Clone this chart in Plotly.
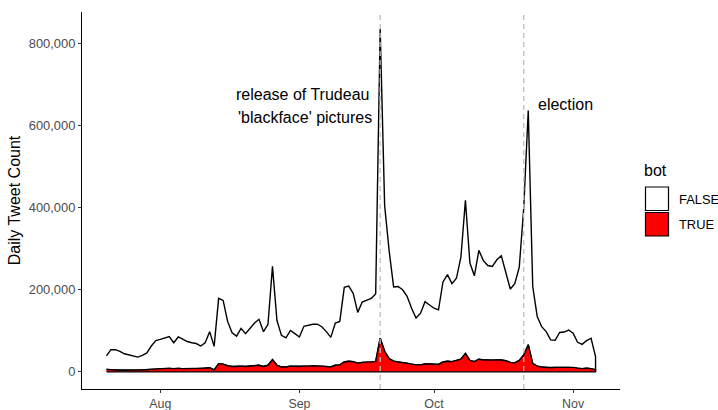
import plotly.graph_objects as go
import pandas as pd

# ---- data ----
start_date = "2019-07-20"
n_days = 110
dates = pd.date_range(start_date, periods=n_days, freq="D")

bot_false = [33, 49, 49, 46, 40, 37, 34, 32, 36, 41,
             57, 69, 71, 74, 77, 63, 76, 72, 66, 63,
             61, 55, 62, 88, 57, 159, 155, 108, 82, 74,
             92, 80, 91, 104, 112, 85, 100, 227, 109, 77,
             71, 87, 80, 72, 97, 99, 101, 101, 96, 85,
             72, 103, 106, 182, 183, 166, 124, 147, 151, 155,
             165, 753, 355, 263, 181, 184, 177, 163, 136, 114,
             126, 152, 144, 136, 133, 195, 211, 190, 200, 249,
             373, 237, 209, 265, 242, 230, 229, 244, 254, 218,
             179, 193, 227, 359, 571, 188, 121, 98, 87, 68,
             66, 85, 86, 91, 83, 63, 59, 67, 74, 32]
bot_true = [6, 5, 5, 4, 4, 4, 4, 4, 4, 5,
            6, 7, 8, 8, 9, 8, 9, 8, 8, 8,
            8, 8, 9, 10, 5, 20, 19, 15, 13, 13,
            14, 13, 14, 15, 16, 13, 16, 30, 16, 12,
            12, 14, 13, 13, 14, 14, 15, 15, 14, 13,
            12, 16, 17, 24, 26, 25, 21, 23, 24, 24,
            25, 82, 50, 32, 26, 24, 23, 21, 19, 17,
            17, 19, 19, 19, 18, 24, 26, 25, 28, 31,
            45, 28, 25, 31, 29, 29, 28, 29, 29, 27,
            23, 22, 28, 41, 66, 20, 14, 12, 11, 10,
            11, 11, 11, 11, 11, 9, 8, 9, 8, 5]
bot_false = [v * 1000 for v in bot_false]
bot_true = [v * 1000 for v in bot_true]

events = ["2019-09-19", "2019-10-21"]
event_labels_1 = ["release of Trudeau", "'blackface' pictures"]
event_label_2 = "election"
y_ticks = [0, 200000, 400000, 600000, 800000]
x_ticks = ["2019-08-01", "2019-09-01", "2019-10-01", "2019-11-01"]
legend_title = "bot"
legend_names = ["FALSE", "TRUE"]
legend_colors = ["white", "red"]

# ---- figure ----
total = [f + t for f, t in zip(bot_false, bot_true)]
xd = list(dates)
x_poly = xd + xd[::-1]
y_false_poly = total + bot_true[::-1]
y_true_poly = bot_true + [0] * n_days

fig = go.Figure()
fig.add_trace(go.Scatter(x=x_poly, y=y_false_poly, fill="toself", fillcolor="white",
                         mode="lines", line=dict(color="black", width=1.4),
                         showlegend=False, hoverinfo="skip"))
fig.add_trace(go.Scatter(x=x_poly, y=y_true_poly, fill="toself", fillcolor="#FF0000",
                         mode="lines", line=dict(color="black", width=1.4),
                         showlegend=False, hoverinfo="skip"))

ymax = max(total)
ypad = ymax * 0.05
span = dates[-1] - dates[0]
xpad = span * 0.05

for ev in events:
    fig.add_shape(type="line", xref="x", yref="paper", x0=ev, x1=ev, y0=0, y1=1,
                  line=dict(color="#BEBEBE", width=1.3, dash="5px,4px"), layer="above")

FONT = "Liberation Sans, Arial, Helvetica, sans-serif"

fig.add_annotation(x=events[0], y=676000, xref="x", yref="y", text=event_labels_1[0],
                   showarrow=False, xanchor="right", yanchor="middle", xshift=-9,
                   font=dict(family=FONT, size=16, color="black"))
fig.add_annotation(x=events[0], y=619000, xref="x", yref="y", text=event_labels_1[1],
                   showarrow=False, xanchor="right", yanchor="middle", xshift=-6,
                   font=dict(family=FONT, size=16, color="black"))
fig.add_annotation(x=events[1], y=651000, xref="x", yref="y", text=event_label_2,
                   showarrow=False, xanchor="left", yanchor="middle", xshift=12,
                   font=dict(family=FONT, size=16, color="black"))

# manual legend (ggplot style)
L, R, T, B = 82, 620, 12, 389
def px(x):
    return (x - L) / (R - L)
def py(y):
    return (B - y) / (B - T)

fig.add_annotation(x=px(642), y=py(170), xref="paper", yref="paper", text=legend_title,
                   showarrow=False, xanchor="left", yanchor="middle",
                   font=dict(family=FONT, size=16, color="black"))
for i, (name, col) in enumerate(zip(legend_names, legend_colors)):
    y0 = 187 + i * 25.5
    fig.add_shape(type="rect", xref="paper", yref="paper",
                  x0=px(645.5), x1=px(668.5), y0=py(y0), y1=py(y0 + 23.5),
                  fillcolor=col, line=dict(color="black", width=1.2))
    fig.add_annotation(x=px(677), y=py(y0 + 12), xref="paper", yref="paper", text=name,
                       showarrow=False, xanchor="left", yanchor="middle",
                       font=dict(family=FONT, size=12.9, color="black"))

fig.update_layout(
    width=718, height=410,
    margin=dict(l=L, r=718 - R, t=T, b=410 - B, pad=0, autoexpand=False),
    paper_bgcolor="white", plot_bgcolor="white",
    showlegend=False,
    font=dict(family=FONT),
)
fig.update_xaxes(
    range=[dates[0] - xpad, dates[-1] + xpad],
    tickvals=x_ticks, tickformat="%b", automargin=False,
    showline=True, linecolor="black", linewidth=1.1,
    ticks="outside", ticklen=3, tickcolor="#333333", tickwidth=1.1,
    tickfont=dict(family=FONT, size=12.4, color="#4D4D4D"),
    showgrid=False, zeroline=False,
)
fig.update_yaxes(
    range=[-ypad, ymax + ypad],
    tickvals=y_ticks, tickformat=",d", automargin=False,
    showline=True, linecolor="black", linewidth=1.1,
    ticks="outside", ticklen=3, tickcolor="#333333", tickwidth=1.1,
    tickfont=dict(family=FONT, size=12.9, color="#4D4D4D"),
    showgrid=False, zeroline=False,
    title=dict(text="Daily Tweet Count", font=dict(family=FONT, size=16, color="black"),
               standoff=4),
)

fig.write_html("out.html",
               config={"displayModeBar": False},
               post_script="document.body.style.margin='0';document.body.style.padding='0';"
                           "document.documentElement.style.margin='0';")
